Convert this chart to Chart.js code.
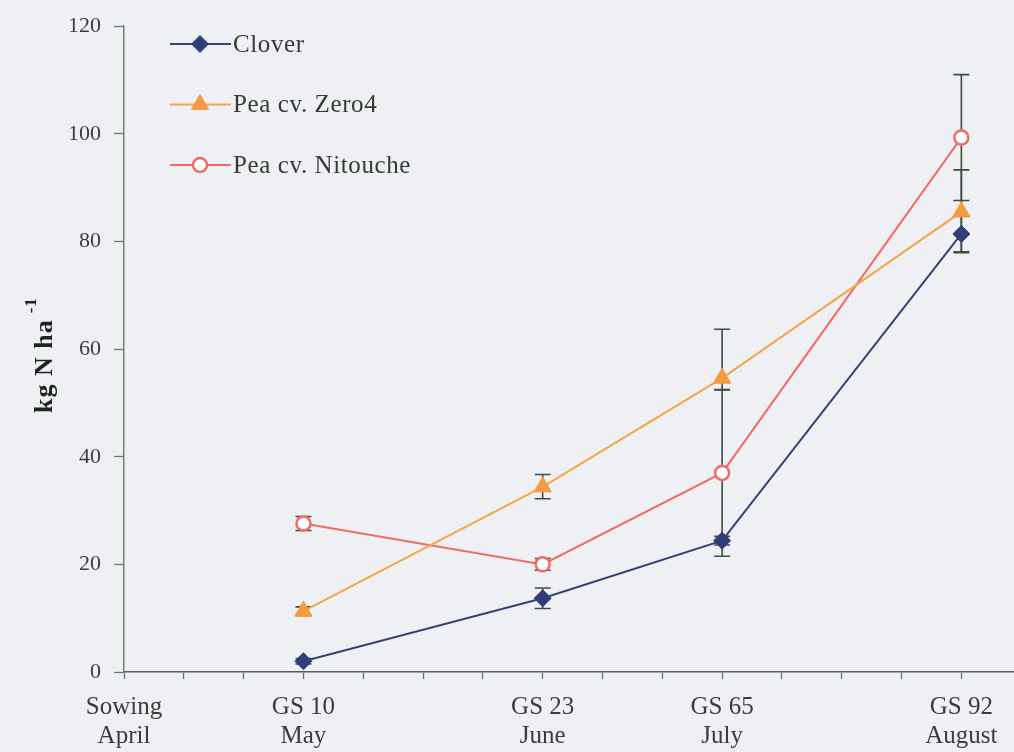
<!DOCTYPE html>
<html>
<head>
<meta charset="utf-8">
<script src="https://cdn.jsdelivr.net/npm/chart.js@4.4.1/dist/chart.umd.min.js"></script>
<style>
  html, body { margin:0; padding:0; background:#eef0f4; }
  #wrap { width:1014px; height:752px; }
</style>
</head>
<body>
<div id="wrap"><canvas id="nChart" width="1014" height="752"></canvas></div>
<script>
// sampling dates on the month scale (0 = sowing)
const stagePos   = [3, 7, 10, 14];
const tickPos    = [0, 3, 7, 10, 14];
const tickLine1  = ['Sowing', 'GS 10', 'GS 23', 'GS 65', 'GS 92'];
const tickLine2  = ['April', 'May', 'June', 'July', 'August'];

const clover          = [2.0, 13.7, 24.4, 81.4];
const cloverErrUp     = [0.5, 1.9, 0.8, 3.3];
const cloverErrDown   = [0.5, 1.9, 0.8, 3.3];
const zero4           = [11.3, 34.4, 54.6, 85.5];
const zero4ErrUp      = [0.8, 2.3, 9.1, 7.8];
const zero4ErrDown    = [0.8, 2.2, 2.2, 7.6];
const nitouche        = [27.6, 20.0, 37.0, 99.3];
const nitoucheErrUp   = [1.3, 1.1, 15.5, 11.7];
const nitoucheErrDown = [1.3, 1.1, 15.5, 11.7];

const SERIF = '"Liberation Serif", "DejaVu Serif", serif';
const toPts = ys => ys.map((y, i) => ({ x: stagePos[i], y }));

// vertical error bars with caps, drawn under the markers
const errorBars = {
  id: 'errorBars',
  beforeDatasetsDraw(c) {
    const { ctx, scales: { x, y } } = c;
    ctx.save();
    ctx.strokeStyle = '#3f4c40';
    ctx.lineWidth = 1.6;
    c.data.datasets.forEach(ds => {
      ds.data.forEach((p, i) => {
        const px = x.getPixelForValue(p.x);
        const top = y.getPixelForValue(p.y + ds.errUp[i]);
        const bot = y.getPixelForValue(p.y - ds.errDown[i]);
        ctx.beginPath();
        ctx.moveTo(px, top); ctx.lineTo(px, bot);
        ctx.moveTo(px - 8, top); ctx.lineTo(px + 8, top);
        ctx.moveTo(px - 8, bot); ctx.lineTo(px + 8, bot);
        ctx.stroke();
      });
    });
    ctx.restore();
  }
};

// legend inside the plot, upper left, plus the rotated axis title
const extras = {
  id: 'extras',
  afterDraw(c) {
    const { ctx } = c;
    ctx.save();
    c.data.datasets.forEach((ds, i) => {
      const yy = 44 + i * 60.5;
      ctx.strokeStyle = ds.borderColor;
      ctx.lineWidth = 2;
      ctx.beginPath(); ctx.moveTo(170, yy); ctx.lineTo(231, yy); ctx.stroke();
      ctx.fillStyle = ds.pointBackgroundColor;
      ctx.strokeStyle = ds.pointBorderColor;
      ctx.lineWidth = ds.pointBorderWidth;
      Chart.helpers.drawPoint(ctx, {
        pointStyle: ds.pointStyle, radius: ds.pointRadius, borderWidth: ds.pointBorderWidth
      }, 200, yy);
      ctx.fillStyle = '#353a35';
      ctx.font = '25px ' + SERIF;
      ctx.letterSpacing = '0.6px';
      ctx.textBaseline = 'middle';
      ctx.textAlign = 'left';
      ctx.fillText(ds.label, 233, yy + 1);
    });
    ctx.letterSpacing = '0px';

    ctx.translate(45, 413);
    ctx.rotate(-Math.PI / 2);
    ctx.fillStyle = '#1f241f';
    ctx.font = 'bold 26px ' + SERIF;
    ctx.letterSpacing = '1px';
    ctx.textBaseline = 'middle';
    ctx.textAlign = 'left';
    const main = 'kg N ha';
    ctx.fillText(main, 0, 0);
    const w = ctx.measureText(main).width;
    ctx.font = 'bold 17px ' + SERIF;
    ctx.fillText('-1', w + 6, -13);
    ctx.restore();
  }
};

new Chart(document.getElementById('nChart'), {
  type: 'line',
  data: {
    datasets: [
      { label: 'Clover', data: toPts(clover), errUp: cloverErrUp, errDown: cloverErrDown,
        borderColor: '#3b4270', borderWidth: 2,
        pointStyle: 'rectRot', pointRadius: 8.5,
        pointBackgroundColor: '#2f3d78', pointBorderColor: '#2f3d78', pointBorderWidth: 1 },
      { label: 'Pea cv. Zero4', data: toPts(zero4), errUp: zero4ErrUp, errDown: zero4ErrDown,
        borderColor: '#f3a548', borderWidth: 2,
        pointStyle: 'triangle', pointRadius: 10,
        pointBackgroundColor: '#f59a3e', pointBorderColor: '#f59a3e', pointBorderWidth: 1 },
      { label: 'Pea cv. Nitouche', data: toPts(nitouche), errUp: nitoucheErrUp, errDown: nitoucheErrDown,
        borderColor: '#f06a68', borderWidth: 2,
        pointStyle: 'circle', pointRadius: 7,
        pointBackgroundColor: '#ffffff', pointBorderColor: '#f06a68', pointBorderWidth: 2.5 }
    ]
  },
  options: {
    responsive: false,
    animation: false,
    layout: { autoPadding: false, padding: { top: 24, right: 0, left: 0, bottom: 0 } },
    plugins: { legend: { display: false }, tooltip: { enabled: false } },
    scales: {
      x: {
        type: 'linear', min: 0, max: 14.88,
        afterBuildTicks: s => { s.ticks = Array.from({ length: 15 }, (_, i) => ({ value: i })); },
        afterFit: s => { s.height = 80; s.paddingLeft = 0; s.paddingRight = 0; },
        ticks: {
          autoSkip: false, maxRotation: 0, padding: 14,
          color: '#3a3d3a', font: { family: SERIF, size: 25, lineHeight: 1.16 },
          callback: v => {
            const k = tickPos.indexOf(v);
            return k < 0 ? '' : [tickLine1[k], tickLine2[k]];
          }
        },
        grid: { drawOnChartArea: false, drawTicks: true, tickLength: 7, color: '#6a7a6a', tickWidth: 1.3 },
        border: { color: '#555b55', width: 1.5 }
      },
      y: {
        min: 0, max: 120,
        afterFit: s => { s.width = 124; },
        ticks: { stepSize: 20, padding: 13, color: '#3a3d3a', font: { family: SERIF, size: 22 } },
        grid: { drawOnChartArea: false, drawTicks: true, tickLength: 10, color: '#6a7a6a', tickWidth: 1.3 },
        border: { color: '#6a846a', width: 1.5 }
      }
    }
  },
  plugins: [errorBars, extras]
});
</script>
</body>
</html>
